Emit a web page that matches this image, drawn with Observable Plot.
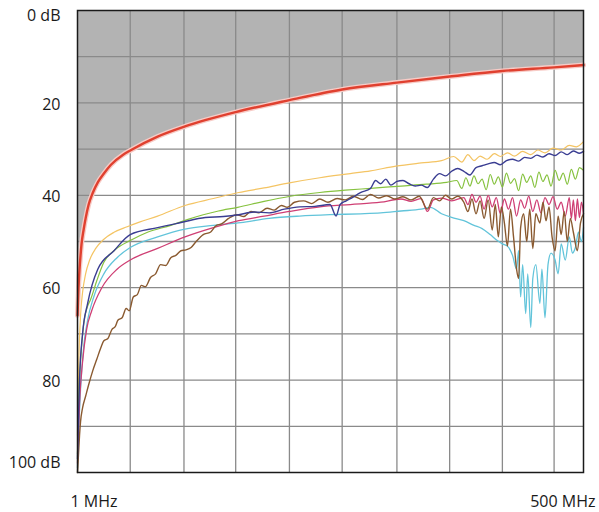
<!DOCTYPE html>
<html><head><meta charset="utf-8">
<script src="https://cdn.jsdelivr.net/npm/d3@7"></script>
<script src="https://cdn.jsdelivr.net/npm/@observablehq/plot@0.6"></script>
<style>html,body{margin:0;padding:0;background:#fff}</style>
</head><body><div id="chart"></div>
<script>
// Tick values and labels
const yTickValues = [0, 20, 40, 60, 80, 100];
const yTickLabels = ["0 dB", "20", "40", "60", "80", "100 dB"];
const xTickValues = [1, 500];
const xTickLabels = ["1 MHz", "500 MHz"];
const xGrid = [53, 106, 157, 210, 262, 316, 368, 420, 471];
const yGrid = [10, 20, 30, 40, 50, 60, 70, 80, 90];

// Limit line (red)
const redF  = [1, 2, 3, 4, 5, 7, 9, 12, 16, 21, 27, 34, 46, 53, 80, 107, 157, 210, 262, 316, 368, 420, 471, 500];
const redDb = [66, 60, 56, 53, 50.5, 47.5, 45, 42, 39.5, 37.2, 35.3, 33.4, 31.2, 30.3, 27.3, 25.1, 22, 19.4, 17.1, 15.6, 14.3, 13.1, 12.3, 11.8];

// Yellow
const yellowF  = [1, 1.5, 2.5, 4, 6, 9, 13, 19, 27, 37, 50, 62, 80, 107, 135, 160, 185, 210, 240, 270, 290, 315, 340, 360, 372, 380, 386, 392, 398, 405, 412, 418, 425, 432, 440, 448, 455, 462, 470, 478, 486, 493, 500];
const yellowDb = [92, 84, 74, 66, 61, 57, 54, 51.5, 49.5, 48, 46.8, 45.8, 44.5, 42.2, 40.7, 39.4, 38.4, 37.3, 36.2, 35.3, 34.7, 33.7, 33, 32.5, 31.6, 32.8, 31.2, 32.5, 31.5, 32.2, 31, 31.6, 30.8, 31.5, 30.5, 31.2, 30.2, 30.8, 29.8, 30.2, 29.2, 29.5, 28.4];

// Green
const greenF  = [1, 2, 4, 7, 11, 14, 20, 27, 38, 53, 70, 93, 110, 125, 140, 159, 185, 211, 240, 265, 290, 320, 345, 365, 375, 380, 384, 388, 392, 396, 400, 404, 408, 412, 416, 420, 424, 428, 432, 436, 440, 444, 448, 452, 456, 460, 464, 468, 472, 476, 480, 484, 488, 492, 496, 500];
const greenDb = [96, 85, 76, 68, 64, 62.5, 58.5, 54.5, 51.8, 49.8, 48, 46.5, 45.2, 44.2, 43.4, 42.6, 41.3, 40.2, 39.4, 38.9, 38.5, 38, 37.6, 37.2, 36.8, 38.5, 36.2, 38, 35.8, 37.5, 36.5, 38.8, 35.5, 37.6, 36, 38.2, 35.2, 37.4, 36.4, 39, 35.4, 37.2, 35.8, 38.3, 35, 37, 35.6, 38, 34.6, 36.8, 35.2, 37.6, 34.4, 36.5, 34, 34.6];

// Navy / purple
const navyF  = [1, 2, 3, 6, 11, 21, 37, 53, 80, 103, 127, 145, 160, 175, 190, 205, 220, 235, 250, 256, 260, 266, 272, 280, 290, 295, 300, 305, 310, 316, 322, 328, 334, 340, 346, 352, 358, 364, 370, 376, 382, 388, 394, 400, 406, 412, 418, 424, 430, 436, 442, 448, 454, 460, 466, 472, 478, 484, 490, 496, 500];
const navyDb = [97, 88, 80, 70, 63.4, 56, 52, 48.5, 47, 45.9, 44.8, 44.6, 44.2, 43.6, 43.8, 43, 42.5, 42.4, 42, 44.5, 42, 41.2, 40.5, 39.4, 38.5, 36.8, 37.5, 36.5, 37.8, 37, 36.8, 37.5, 38, 37.8, 38.3, 36.5, 35.3, 35.8, 34.8, 34.2, 34.8, 35.6, 34, 33.6, 33.2, 32.9, 33.4, 32.5, 32.2, 32.6, 31.8, 32, 31.3, 31.7, 31, 31.4, 30.6, 31.2, 30.4, 30.9, 30.5];

// Brown
const brownF  = [1, 1.5, 2, 3, 4, 6, 9, 12, 16, 20, 24, 27, 31, 35, 38, 41, 45, 49, 52, 56, 60, 64, 68, 73, 78, 83, 88, 93, 98, 103, 108, 113, 118, 125, 132, 138, 143, 150, 158, 165, 172, 180, 188, 195, 202, 208, 215, 224, 232, 240, 248, 257, 265, 273, 282, 290, 298, 306, 314, 322, 330, 338, 346, 352, 358, 364, 370, 376, 382, 386, 390, 394, 398, 402, 406, 410, 413, 416, 419, 422, 425, 428, 431, 434, 436, 438, 441, 444, 447, 450, 453, 457, 460, 463, 466, 469, 472, 475, 478, 481, 484, 487, 490, 494, 497, 500];
const brownDb = [100, 98, 96, 92, 89, 86, 83.5, 81, 78, 75.5, 73, 71.5, 71, 69, 68.5, 67, 66.5, 64.5, 65, 62, 61.5, 59.5, 59.8, 57.8, 57, 55, 55.2, 53.5, 53, 52, 51.8, 51.3, 50, 48.5, 48, 46.5, 46.2, 45, 44.2, 44.6, 43.5, 43.8, 42.8, 43.2, 42.2, 42.6, 41.5, 41.2, 41.8, 40.8, 41.5, 40.7, 41, 40.2, 40.9, 39.8, 40.6, 40.1, 40.8, 40.3, 41, 40.2, 43, 40.5, 41.2, 40, 40.8, 40.2, 41.5, 43.5, 40.8, 44, 41.2, 45, 41, 47.5, 42, 49, 42.5, 46, 51, 43, 49, 56, 58, 47, 44, 50, 43, 51.5, 44, 46, 41.5, 45.5, 42.5, 49, 52, 44.5, 48.5, 43.5, 50, 45, 48, 52, 46, 44];

// Crimson / pink
const crimsonF  = [1, 3, 6, 10, 15, 25, 40, 53, 80, 107, 135, 160, 185, 210, 240, 270, 300, 320, 330, 340, 346, 352, 360, 370, 382, 386, 390, 394, 398, 402, 406, 410, 414, 418, 422, 426, 430, 434, 438, 442, 446, 450, 454, 458, 462, 466, 470, 474, 478, 482, 486, 488, 490, 492, 494, 496, 498, 500];
const crimsonDb = [98, 85, 76, 69, 65, 60, 56, 54, 51.5, 49, 47, 45.5, 44.5, 43.5, 42.5, 42, 41.5, 40.8, 41.3, 40.7, 43.5, 41, 40.6, 41.2, 40.5, 42, 39.8, 41.5, 40.2, 43, 40, 42.5, 40.5, 44, 40.8, 43, 40.5, 44.5, 41, 42.8, 40.2, 43.5, 41, 43.8, 40.5, 42, 40.3, 43, 41.5, 44.5, 40.5, 45, 41, 45.5, 40.8, 44.8, 41.5, 44];

// Light blue / cyan
const cyanF  = [1, 2, 4, 7, 11, 17, 27, 40, 53, 80, 107, 135, 162, 190, 220, 250, 280, 300, 320, 340, 349, 360, 370, 382, 392, 400, 408, 415, 420, 425, 430, 434, 436, 438, 440, 443, 445, 448, 450, 453, 457, 459, 462, 465, 468, 472, 475, 478, 482, 486, 489, 492, 495, 498, 500];
const cyanDb = [99, 92, 82, 73, 67, 62, 57, 53.5, 51.3, 49, 47.3, 46.5, 45.9, 45, 44.5, 44.2, 44, 43.8, 43.4, 43, 42.6, 44, 44.8, 45.5, 46.5, 47.2, 48.5, 49.8, 50.5, 51, 53, 56, 52, 62, 55, 65.6, 57, 68.6, 58, 55, 63.4, 56, 66.5, 55, 52.5, 54, 57, 50.5, 54, 49, 52.5, 51.3, 48, 50, 47];

const toRows = (f, db) => f.map((x, i) => ({f: x, db: db[i]}));
const red = toRows(redF, redDb);
const series = [
  {rows: toRows(yellowF, yellowDb), color: "#f4c463", w: 1.2},
  {rows: toRows(cyanF, cyanDb), color: "#62c4da", w: 1.3},
  {rows: toRows(greenF, greenDb), color: "#86c23f", w: 1.2},
  {rows: toRows(crimsonF, crimsonDb), color: "#cf3f74", w: 1.3},
  {rows: toRows(brownF, brownDb), color: "#8a5a30", w: 1.4},
  {rows: toRows(navyF, navyDb), color: "#3a3d92", w: 1.4}
];

const yRows = yTickValues.map((v, i) => ({v, label: yTickLabels[i]}));
const xRows = xTickValues.map((v, i) => ({v, label: xTickLabels[i]}));

const chart = Plot.plot({
  width: 599,
  height: 512,
  marginLeft: 77,
  marginRight: 16,
  marginTop: 10,
  marginBottom: 40,
  style: {fontFamily: "'Open Sans', sans-serif", fontSize: "16px", color: "#1a1a1a", background: "#fff", overflow: "visible"},
  x: {domain: [1, 500], axis: null},
  y: {domain: [0, 100], reverse: true, axis: null},
  marks: [
    Plot.areaY(red, {x: "f", y1: 0, y2: "db", fill: "#b3b3b3", curve: "monotone-x"}),
    Plot.ruleX(xGrid, {stroke: "#8a8a8a", strokeWidth: 1.3}),
    Plot.ruleY(yGrid, {stroke: "#8a8a8a", strokeWidth: 1.3}),
    ...series.map(s => Plot.line(s.rows, {x: "f", y: "db", stroke: s.color, strokeWidth: s.w, curve: "monotone-x"})),
    Plot.line(red, {x: "f", y: "db", stroke: "#f7cbc6", strokeWidth: 5, curve: "monotone-x"}),
    Plot.line(red, {x: "f", y: "db", stroke: "#e0402f", strokeWidth: 2.4, curve: "monotone-x"}),
    Plot.frame({stroke: "#1a1a1a", strokeWidth: 1.5}),
    Plot.text(yRows.slice(0, 1), {y: "v", text: "label", frameAnchor: "left", textAnchor: "end", dx: -17, dy: 5, fontSize: 16, fill: "#1a1a1a"}),
    Plot.text(yRows.slice(1, -1), {y: "v", text: "label", frameAnchor: "left", textAnchor: "end", dx: -17, dy: 1.5, fontSize: 16, fill: "#1a1a1a"}),
    Plot.text(yRows.slice(-1), {y: "v", text: "label", frameAnchor: "left", textAnchor: "end", dx: -17, dy: -10, fontSize: 16, fill: "#1a1a1a"}),
    Plot.text(xRows.slice(0, 1), {x: "v", text: "label", frameAnchor: "bottom", lineAnchor: "middle", textAnchor: "start", dx: -7, dy: 29, fontSize: 16, fill: "#1a1a1a"}),
    Plot.text(xRows.slice(1), {x: "v", text: "label", frameAnchor: "bottom", lineAnchor: "middle", textAnchor: "end", dx: 12, dy: 29, fontSize: 16, fill: "#1a1a1a"})
  ]
});
document.getElementById("chart").appendChild(chart);
</script>
</body></html>
